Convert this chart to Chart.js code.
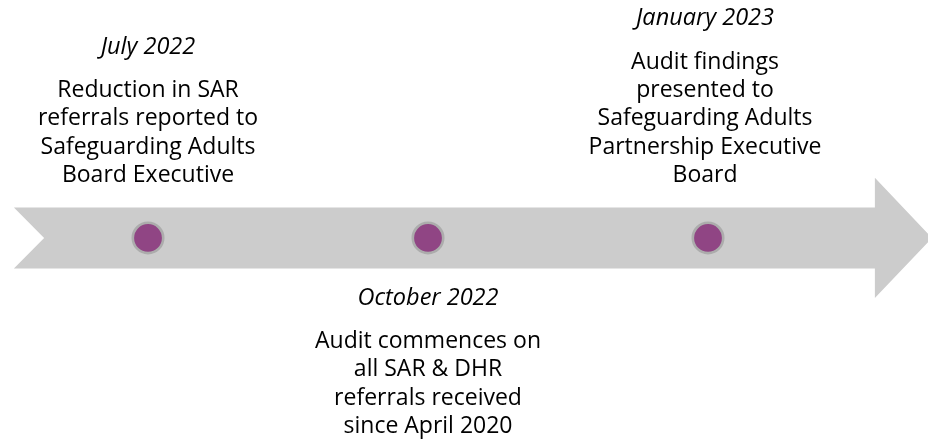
<!DOCTYPE html>
<html>
<head>
<meta charset="utf-8">
<script src="https://cdn.jsdelivr.net/npm/chart.js@4.4.1/dist/chart.umd.min.js"></script>
<style>
  body { margin: 0; background: #fff; }
  #wrap { width: 928px; height: 439px; }
</style>
</head>
<body>
<div id="wrap"><canvas id="timeline"></canvas></div>
<script>
const dates = ["July 2022", "October 2022", "January 2023"];
const descriptions = [
  ["Reduction in SAR", "referrals reported to", "Safeguarding Adults", "Board Executive"],
  ["Audit commences on", "all SAR & DHR", "referrals received", "since April 2020"],
  ["Audit findings", "presented to", "Safeguarding Adults", "Partnership Executive", "Board"]
];
const sides = ["above", "below", "above"];

// arrow outline: x in event steps, y in half body heights
const arrowX = [-0.479, 2.596, 2.596, 2.80, 2.596, 2.596, -0.479, -0.371, -0.479];
const arrowY = [1, 1, 1.97, 0, -1.97, -1, -1, 0, 1];

const lineH = 28.3;
const fontFamily = "'Open Sans'";

const labelPlugin = {
  id: "labels",
  afterDatasetsDraw(chart) {
    const ctx = chart.ctx;
    const xs = chart.scales.x, ys = chart.scales.y;
    const center = ys.getPixelForValue(0);
    ctx.save();
    ctx.fillStyle = "#000";
    ctx.textAlign = "center";
    ctx.textBaseline = "alphabetic";
    dates.forEach((d, i) => {
      const px = xs.getPixelForValue(i) + (i === 2 ? -3 : 0);
      const lines = descriptions[i];
      let top, gap;
      if (sides[i] === "above") {
        top = center - 56 - (lines.length - 1) * lineH;
        gap = 43.5;
      } else {
        top = center + 110;
        gap = 42.5;
      }
      ctx.font = "italic 23.5px " + fontFamily;
      ctx.fillText(d, px, top - gap);
      ctx.font = "23px " + fontFamily;
      lines.forEach((t, k) => ctx.fillText(t, px, top + k * lineH));
    });
    ctx.restore();
  }
};

new Chart(document.getElementById("timeline"), {
  type: "scatter",
  data: {
    datasets: [
      {
        label: "events",
        data: dates.map((d, i) => ({ x: i, y: 0 })),
        pointRadius: 15.2,
        pointHoverRadius: 15.2,
        backgroundColor: "#904584",
        borderColor: "#acacac",
        borderWidth: 2.6,
        order: 1
      },
      {
        label: "arrow",
        data: arrowX.map((x, i) => ({ x: x, y: arrowY[i] })),
        showLine: true,
        fill: "shape",
        backgroundColor: "#cccccc",
        borderColor: "#cccccc",
        borderWidth: 0,
        pointRadius: 0,
        tension: 0,
        order: 2
      }
    ]
  },
  options: {
    responsive: true,
    maintainAspectRatio: false,
    animation: false,
    layout: { padding: 0, autoPadding: false },
    plugins: { legend: { display: false }, tooltip: { enabled: false } },
    scales: {
      x: { type: "linear", display: false, min: -0.5286, max: 2.7857 },
      y: { type: "linear", display: false, min: -6.59, max: 7.80 }
    }
  },
  plugins: [labelPlugin]
});
</script>
</body>
</html>
